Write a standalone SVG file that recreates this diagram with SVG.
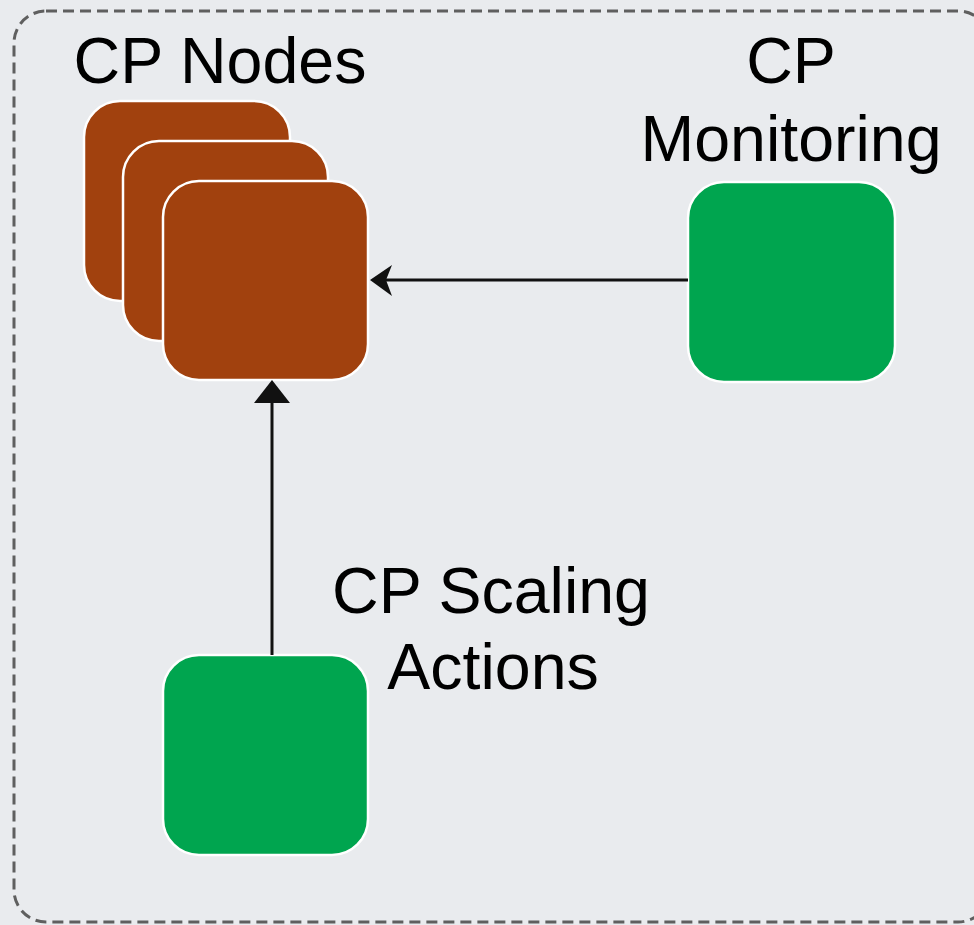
<svg xmlns="http://www.w3.org/2000/svg" width="974" height="925" viewBox="0 0 974 925">
<defs>
<style>
.lbl{font-family:"Liberation Sans",Arial,Helvetica,sans-serif;font-size:64.5px;fill:#000;text-anchor:middle}
.brown{fill:#a1410e;stroke:#fff;stroke-width:2.5}
.green{fill:#00a54f;stroke:#fff;stroke-width:2.5}
.conn{stroke:#111;stroke-width:3;fill:none}
</style>
</defs>
<rect x="0" y="0" width="974" height="925" fill="#e9ebee"/>
<rect id="border" x="14" y="11" width="976" height="911" rx="32" fill="none" stroke="#5f5f5f" stroke-width="3" stroke-dasharray="11 6"/>
<g id="cp-nodes">
<rect class="brown" x="84" y="101" width="206" height="200" rx="36"/>
<rect class="brown" x="123" y="141" width="205" height="200" rx="36"/>
<rect class="brown" x="163" y="181" width="205" height="199" rx="36"/>
<text class="lbl" x="220" y="83">CP Nodes</text>
</g>
<g id="cp-monitoring">
<rect class="green" x="688" y="182" width="207" height="200" rx="36"/>
<text class="lbl" x="791" y="83">CP</text>
<text class="lbl" x="791" y="161">Monitoring</text>
</g>
<g id="cp-scaling">
<rect class="green" x="163" y="655" width="205" height="200" rx="36"/>
<text class="lbl" x="491" y="613">CP Scaling</text>
<text class="lbl" x="493" y="689">Actions</text>
</g>
<g id="connectors">
<line class="conn" x1="688" y1="280" x2="386" y2="280"/>
<path d="M370,280 L392,265 L386,280 L392,296 Z" fill="#111"/>
<line class="conn" x1="272" y1="655" x2="272" y2="400"/>
<path d="M272,380 L290,403 L254,403 Z" fill="#111"/>
</g>
</svg>
